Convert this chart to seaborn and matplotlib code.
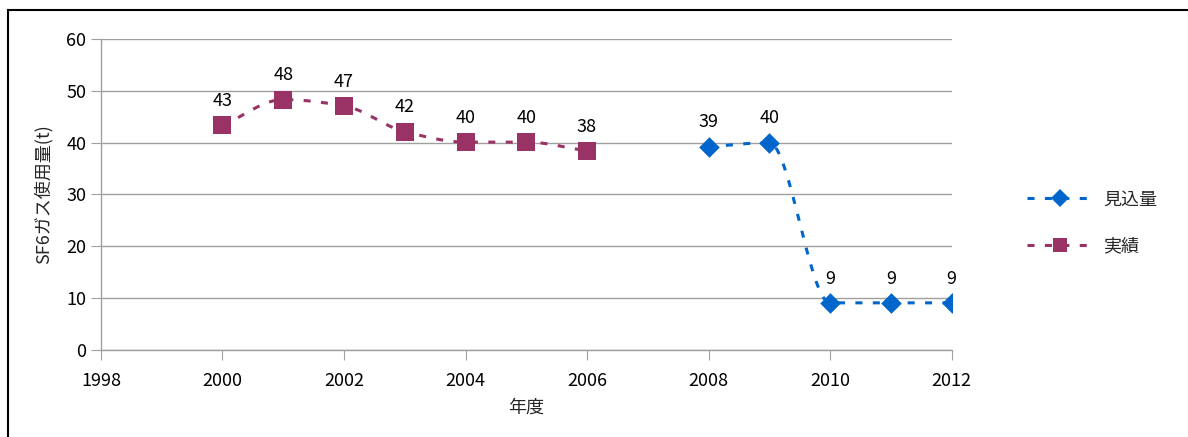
import numpy as np
import pandas as pd
import matplotlib
matplotlib.use("Agg")
from matplotlib import pyplot as plt
from matplotlib.lines import Line2D
from matplotlib.patches import Rectangle
import seaborn as sns

# data
years_actual = [2000, 2001, 2002, 2003, 2004, 2005, 2006]
actual = [43.3, 48.3, 47.1, 42.1, 40.1, 40.1, 38.4]
actual_labels = ["43", "48", "47", "42", "40", "40", "38"]

years_plan = [2008, 2009, 2010, 2011, 2012]
plan = [39.2, 40.0, 9.1, 9.1, 9.1]
plan_labels = ["39", "40", "9", "9", "9"]

BLUE = "#0066CC"
PURPLE = "#993366"


def smooth(x, y, n=40):
    """monotone cubic (Fritsch-Carlson) curve through the points, no overshoot"""
    x = np.asarray(x, float)
    y = np.asarray(y, float)
    h = np.diff(x)
    d = np.diff(y) / h
    m = np.zeros_like(y)
    m[0], m[-1] = d[0], d[-1]
    for i in range(1, len(y) - 1):
        if d[i - 1] * d[i] > 0:
            w1 = 2 * h[i] + h[i - 1]
            w2 = h[i] + 2 * h[i - 1]
            m[i] = (w1 + w2) / (w1 / d[i - 1] + w2 / d[i])
    xs, ys = [], []
    for i in range(len(x) - 1):
        t = np.linspace(0, 1, n)
        h00 = 2 * t ** 3 - 3 * t ** 2 + 1
        h10 = t ** 3 - 2 * t ** 2 + t
        h01 = -2 * t ** 3 + 3 * t ** 2
        h11 = t ** 3 - t ** 2
        xs.extend(x[i] + t * h[i])
        ys.extend(h00 * y[i] + h10 * h[i] * m[i] + h01 * y[i + 1] + h11 * h[i] * m[i + 1])
    return pd.DataFrame({"x": xs, "y": ys})


sns.set_style("white")
plt.rcParams["font.family"] = ["Noto Sans CJK JP", "DejaVu Sans"]

fig = plt.figure(figsize=(11.88, 4.37), dpi=100)
ax = fig.add_axes([0.085, 0.199, 0.716, 0.712])

dash = (0, (2.3, 3.4))
for xs, ys, color, marker, ms in ((years_actual, actual, PURPLE, "s", 150),
                                  (years_plan, plan, BLUE, "D", 110)):
    sm = smooth(xs, ys)
    sns.lineplot(data=sm, x="x", y="y", ax=ax, color=color, linewidth=2.2,
                 sort=False, estimator=None)
    ax.lines[-1].set_linestyle(dash)
    df = pd.DataFrame({"x": xs, "y": ys})
    sns.scatterplot(data=df, x="x", y="y", ax=ax, color=color, marker=marker,
                    s=ms, edgecolor=color, linewidth=0, zorder=5)

for xs, ys, labs in ((years_actual, actual, actual_labels),
                     (years_plan, plan, plan_labels)):
    for x, y, lab in zip(xs, ys, labs):
        ax.annotate(lab, (x, y), xytext=(0, 11), textcoords="offset points",
                    ha="center", va="bottom", fontsize=13, color="#000000")

ax.set_xlim(1998, 2012)
ax.set_ylim(0, 60)
ax.set_xticks(range(1998, 2013, 2))
ax.set_yticks(range(0, 61, 10))
ax.yaxis.grid(True, color="#A0A0A0", linewidth=1)
ax.set_axisbelow(True)
for s in ("top", "right"):
    ax.spines[s].set_visible(False)
for s in ("left", "bottom"):
    ax.spines[s].set_color("#A0A0A0")
    ax.spines[s].set_linewidth(1)
ax.tick_params(axis="both", direction="out", length=7, color="#A0A0A0",
               labelsize=13, labelcolor="#000000", bottom=True, left=True)
ax.tick_params(axis="x", pad=9)
ax.set_xlabel("年度", fontsize=13, labelpad=6)
ax.set_ylabel("SF6ガス使用量(t)", fontsize=13, labelpad=10)

handles = [
    Line2D([], [], color=BLUE, linestyle=dash, linewidth=2.2, marker="D",
           markersize=9, markeredgewidth=0),
    Line2D([], [], color=PURPLE, linestyle=dash, linewidth=2.2, marker="s",
           markersize=10, markeredgewidth=0),
]
fig.legend(handles, ["見込量", "実績"], loc="center left",
           bbox_to_anchor=(0.851, 0.49), frameon=False, fontsize=13,
           handlelength=3.6, labelspacing=1.6, handletextpad=0.6)

# chart area border
fig.patches.append(Rectangle((8 / 1188, -0.1), 1.2, 1.1 - 10 / 437,
                             transform=fig.transFigure, fill=False,
                             edgecolor="black", linewidth=1.5))

fig.savefig("out.png", dpi=100)
